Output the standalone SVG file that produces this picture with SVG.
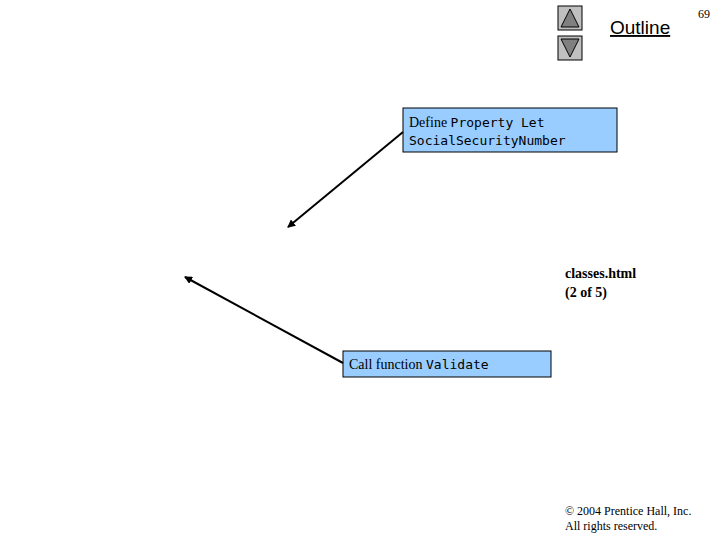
<svg xmlns="http://www.w3.org/2000/svg" width="720" height="540" viewBox="0 0 720 540">
<style>
.box{fill:#99ccff;stroke:#000;stroke-width:1}
.serif{font-family:"Liberation Serif",serif;font-size:14px}
.mono{font-family:"DejaVu Sans Mono","Liberation Mono",monospace;font-size:13px}
.btn{fill:#c0c0c0;stroke:#000;stroke-width:1}
.tri{fill:#808080;stroke:#000}
.conn{stroke:#000;stroke-width:2;fill:none;marker-end:url(#ah)}
</style>
<defs><marker id="ah" markerWidth="8" markerHeight="8" refX="7" refY="4" orient="auto" markerUnits="userSpaceOnUse"><path d="M0,0 L8,4 L0,8 Z" fill="#000"/></marker></defs>
<rect width="720" height="540" fill="#fff"/>
<g id="nav">
<rect class="btn" x="558" y="6" width="24" height="24"/><path class="tri" d="M570,9 L579,27 L561,27 Z"/>
<rect class="btn" x="558" y="36" width="24" height="24"/><path class="tri" d="M561,39 L579,39 L570,57 Z"/>
<text x="610" y="34" font-family="Liberation Sans,sans-serif" font-size="19" text-decoration="underline">Outline</text>
<text x="698" y="18" font-family="Liberation Serif,serif" font-size="12">69</text>
</g>
<g id="n1"><rect class="box" x="403" y="108" width="214" height="44"/>
<text x="409" y="127"><tspan class="serif">Define </tspan><tspan class="mono">Property Let</tspan></text>
<text x="409" y="145" class="mono">SocialSecurityNumber</text></g>
<g id="n2"><rect class="box" x="343" y="351" width="208" height="26"/>
<text x="349" y="369"><tspan class="serif">Call function </tspan><tspan class="mono">Validate</tspan></text></g>
<g id="side">
<text x="565" y="278" class="serif" font-weight="bold">classes.html</text>
<text x="565" y="297" class="serif" font-weight="bold">(2 of 5)</text>
<text x="565" y="515" font-family="Liberation Serif,serif" font-size="12">© 2004 Prentice Hall, Inc.</text>
<text x="565" y="530" font-family="Liberation Serif,serif" font-size="12">All rights reserved.</text>
</g>
<g id="connectors">
<line class="conn" x1="403" y1="132" x2="288" y2="227"/>
<line class="conn" x1="343" y1="363" x2="185" y2="277"/>
</g>
</svg>
